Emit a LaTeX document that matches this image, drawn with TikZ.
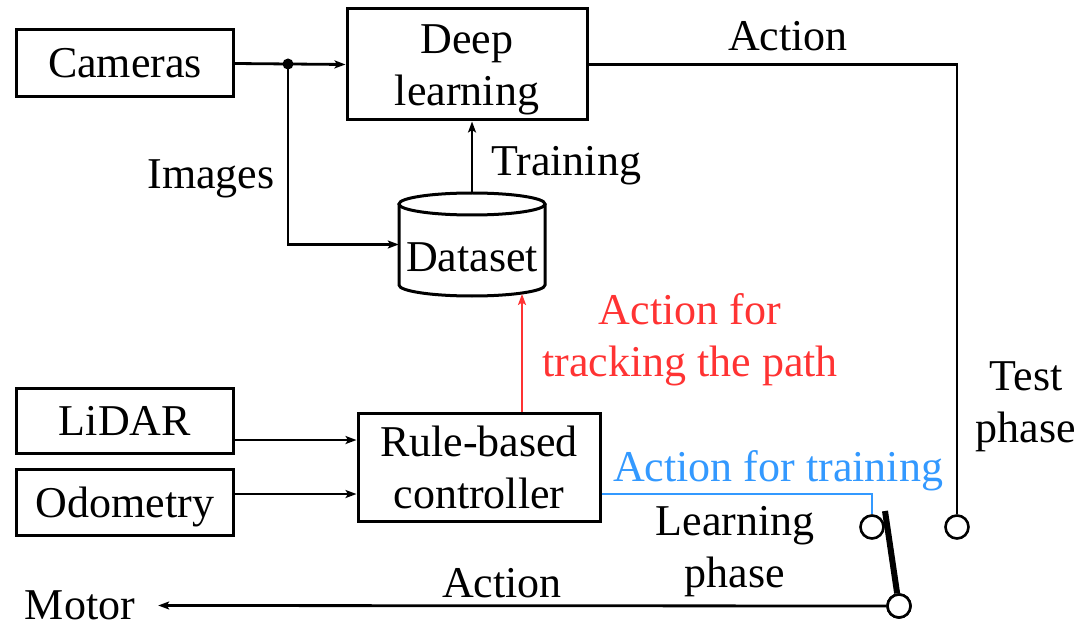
\documentclass[tikz,border=0pt]{standalone}
\usepackage{fontspec}
\setmainfont{Liberation Serif}
\usetikzlibrary{arrows.meta}
\definecolor{actred}{RGB}{255,51,51}
\definecolor{actblue}{RGB}{51,153,255}
\begin{document}
\begin{tikzpicture}[x=1bp,y=-1bp, font=\fontsize{44bp}{52bp}\selectfont,
  box/.style={draw, line width=3bp, inner sep=0pt, align=center},
  wire/.style={line width=2.8bp},
  arr/.style={wire, -{Stealth[length=11bp,width=8bp,inset=2.5bp]}},
  lbl/.style={inner sep=0pt, align=center},
  term/.style={draw, line width=2.6bp, circle, minimum size=23bp, inner sep=0pt, fill=white}]
\useasboundingbox (0,0) rectangle (1084,631);
% boxes
\node[box, minimum width=216bp, minimum height=67bp] (cam) at (125,63.5) {Cameras};
\node[box, minimum width=240bp, minimum height=111bp, text height=92bp] (dl) at (467,64.5) {Deep\\learning};
\node[box, minimum width=216bp, minimum height=65bp] (lidar) at (125,420.5) {LiDAR};
\node[box, minimum width=216bp, minimum height=66bp, text depth=0bp] (odo) at (125,502) {Odometry};
\node[box, minimum width=242bp, minimum height=108bp] (ctrl) at (479,467) {Rule-based\\controller};
% dataset cylinder
\node[inner sep=0pt, minimum width=146bp, minimum height=103bp] (ds) at (472,244.5) {};
\draw[line width=3bp, fill=white] (399,204) -- (399,285) arc[start angle=180, end angle=0, x radius=73, y radius=11] -- (545,204);
\draw[line width=3bp] (472,204) ellipse [x radius=73, y radius=11];
\node[lbl] (dslabel) at (472,257) {Dataset};
% junction
\coordinate (jn) at (288,64);
\fill (jn) circle[radius=5.5];
% terminals
\node[term] (learn) at (872,527) {};
\node[term] (test) at (957,527) {};
\node[term] (sw) at (899,606) {};
\coordinate (swtip) at (885,511);
% motor
\node[lbl] (motor) at (80,605.5) {Motor};
% connectors
\draw[arr] (cam.east) -- (dl.west);
\draw[arr] (jn) |- (ds.west);
\draw[arr] (ds.north) -- (ds.north |- dl.south);
\draw[wire] (dl.east) -| (test.north);
\draw[arr] (lidar.east |- 0,440) -- (ctrl.west |- 0,440);
\draw[arr] (odo.east |- 0,494) -- (ctrl.west |- 0,494);
\draw[arr, actred] (ctrl.north -| 522,0) -- (522,294);
\draw[wire, actblue] (ctrl.east |- 0,494) -| (learn.north);
\draw[line width=6bp] (swtip) -- (sw);
\node[term] at (sw) {};
\draw[arr] (sw.west) -- ([xshift=23bp]motor.east);
% labels
\node[lbl] (images) at (211,179) {Images};
\node[lbl] (training) at (566,166) {Training};
\node[lbl] (actiontop) at (788,36.5) {Action};
\node[lbl] (testphase) at (1026,407) {Test\\phase};
\node[lbl, text=actred] (track) at (690,340) {Action for\\tracking the path};
\node[lbl, text=actblue] (acttrain) at (778,471) {Action for training};
\node[lbl] (learnphase) at (735,552) {Learning\\phase};
\node[lbl] (actionbot) at (502,583.5) {Action};
\end{tikzpicture}
\end{document}
